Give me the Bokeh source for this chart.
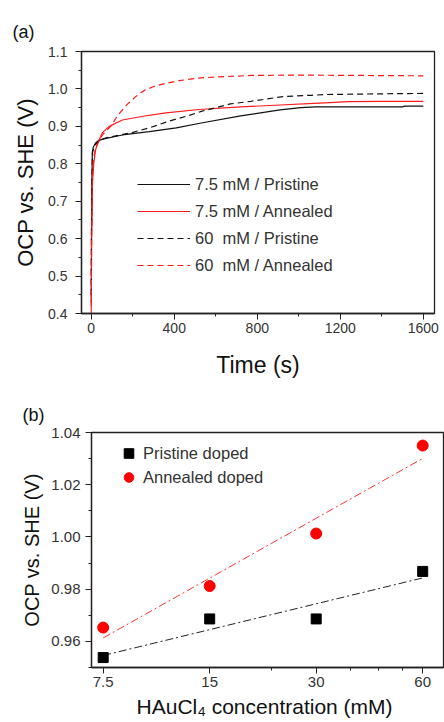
from bokeh.plotting import figure
from bokeh.layouts import column
from bokeh.models import (Range1d, SingleIntervalTicker, FixedTicker, NumeralTickFormatter,
                          Legend, LegendItem, CustomJSTickFormatter)
from bokeh.embed import file_html
from bokeh.resources import INLINE
import numpy as np

FONT = "Liberation Sans"
AXC = "#222222"
TXC = "#333333"

# ---------------- Panel (a): OCP transients ----------------
t_75_pristine = [0, 1, 3, 5, 10, 20, 35, 55, 150, 280, 410, 530, 720, 910, 1010, 1080, 1300, 1500, 1510, 1600]
v_75_pristine = [0.43, 0.60, 0.74, 0.83, 0.845, 0.855, 0.862, 0.866, 0.877, 0.886, 0.896, 0.909, 0.928,
                 0.944, 0.950, 0.952, 0.952, 0.952, 0.954, 0.954]

t_75_annealed = [0, 2, 6, 12, 20, 30, 45, 55, 87, 150, 250, 360, 520, 720, 910, 1100, 1240, 1390, 1600]
v_75_annealed = [0.40, 0.60, 0.75, 0.80, 0.835, 0.855, 0.872, 0.884, 0.900, 0.917, 0.927, 0.936, 0.945,
                 0.952, 0.957, 0.962, 0.966, 0.967, 0.967]

t_60_pristine = [0, 1, 3, 6, 15, 30, 50, 70, 200, 280, 375, 470, 530, 670, 770, 930, 1060, 1130, 1400, 1600]
v_60_pristine = [0.45, 0.62, 0.76, 0.83, 0.848, 0.858, 0.865, 0.869, 0.884, 0.896, 0.914, 0.929, 0.940,
                 0.960, 0.967, 0.980, 0.983, 0.985, 0.987, 0.988]

t_60_annealed = [0, 2, 5, 10, 20, 35, 55, 95, 130, 172, 215, 255, 304, 360, 424, 512, 610, 770, 1000, 1300, 1600]
v_60_annealed = [0.42, 0.62, 0.75, 0.81, 0.84, 0.858, 0.878, 0.901, 0.931, 0.958, 0.980, 0.996, 1.007,
                 1.015, 1.022, 1.029, 1.032, 1.036, 1.037, 1.036, 1.035]

labels_a = ["7.5 mM / Pristine", "7.5 mM / Annealed", "60  mM / Pristine", "60  mM / Annealed"]

# ---------------- Panel (b): OCP vs concentration ----------------
conc = [7.5, 15, 30, 60]
conc_labels = ["7.5", "15", "30", "60"]
ocp_pristine = [0.9538, 0.9686, 0.9686, 0.9868]
ocp_annealed = [0.9653, 0.9812, 1.0013, 1.0350]
labels_b = ["Pristine doped", "Annealed doped"]


def style_axes(p, tick_size, ylabel_size, xlabel_size):
    for ax in (p.xaxis[0], p.yaxis[0]):
        ax.axis_line_color = AXC
        ax.axis_line_width = 1.3
        ax.major_tick_line_color = AXC
        ax.minor_tick_line_color = AXC
        ax.major_tick_in = 0
        ax.major_tick_out = 6
        ax.minor_tick_in = 0
        ax.minor_tick_out = 3
        ax.major_label_text_font = FONT
        ax.major_label_text_font_size = tick_size
        ax.major_label_text_color = TXC
        ax.axis_label_text_font = FONT
        ax.axis_label_text_font_style = "normal"
        ax.axis_label_text_color = "#111111"
    p.yaxis.axis_label_text_font_size = ylabel_size
    p.xaxis.axis_label_text_font_size = xlabel_size
    p.grid.visible = False
    p.outline_line_color = AXC
    p.outline_line_width = 1.3
    p.background_fill_color = "white"
    p.border_fill_color = "white"
    p.title.text_font = FONT
    p.title.text_font_size = "18px"
    p.title.text_font_style = "normal"
    p.title.text_color = "#111111"
    p.title.align = "left"


# ---- figure (a)
pa = figure(width=444, height=385, output_backend="svg", toolbar_location=None, title="(a)",
            x_range=Range1d(-47, 1654), y_range=Range1d(0.4, 1.1), frame_align=False,
            min_border_left=81, min_border_right=10, min_border_top=51, min_border_bottom=72)
style_axes(pa, "14px", "22px", "23px")
pa.title.offset = -69
pa.title.standoff = 20
pa.xaxis.ticker = SingleIntervalTicker(interval=400, num_minor_ticks=2)
pa.yaxis.ticker = SingleIntervalTicker(interval=0.1, num_minor_ticks=2)
pa.yaxis.formatter = NumeralTickFormatter(format="0.0")
pa.xaxis.axis_label = "Time (s)"
pa.yaxis.axis_label = "OCP vs. SHE (V)"
pa.xaxis.major_label_standoff = 3
pa.xaxis.axis_label_standoff = 16
pa.yaxis.major_label_standoff = 8
pa.yaxis.axis_label_standoff = 7

r1 = pa.line(t_75_pristine, v_75_pristine, line_color="#111111", line_width=1.2)
r2 = pa.line(t_75_annealed, v_75_annealed, line_color="#ff1a1a", line_width=1.2)
r3 = pa.line(t_60_pristine, v_60_pristine, line_color="#111111", line_width=1.2, line_dash="6 4")
r4 = pa.line(t_60_annealed, v_60_annealed, line_color="#ff1a1a", line_width=1.2, line_dash="6 4")

leg_a = Legend(items=[LegendItem(label=labels_a[i], renderers=[r]) for i, r in enumerate([r1, r2, r3, r4])],
               location=(56, 38), border_line_color=None, background_fill_alpha=0,
               padding=0, margin=0, glyph_width=53, glyph_height=20, label_height=20,
               spacing=7, label_standoff=5, label_text_font=FONT, label_text_font_size="16.5px",
               label_text_color=TXC)
pa.add_layout(leg_a)

# ---- figure (b)
pb = figure(width=444, height=337, output_backend="svg", toolbar_location=None, title="(b)",
            x_axis_type="log", x_range=Range1d(6.95, 68.7), y_range=Range1d(0.95, 1.04),
            frame_align=False,
            min_border_left=91, min_border_right=1, min_border_top=47, min_border_bottom=55)
style_axes(pb, "15px", "20px", "21px")
pb.title.offset = -69
pb.title.standoff = 16
pb.xaxis.ticker = FixedTicker(ticks=conc, minor_ticks=[22.5, 37.5, 45, 52.5])
pb.xaxis.formatter = CustomJSTickFormatter(code="return String(tick);")
pb.xaxis.major_label_overrides = {c: l for c, l in zip(conc, conc_labels)}
pb.yaxis.ticker = SingleIntervalTicker(interval=0.02, num_minor_ticks=2)
pb.yaxis.formatter = NumeralTickFormatter(format="0.00")
pb.xaxis.axis_label = "HAuCl\u2084  concentration (mM)"
pb.yaxis.axis_label = "OCP vs. SHE (V)"
pb.xaxis.major_label_standoff = 3
pb.xaxis.axis_label_standoff = 5
pb.yaxis.major_label_standoff = 5
pb.yaxis.axis_label_standoff = 5

# linear fits in log2(concentration)
lx = np.log2(conc)
fit_p = np.polyfit(lx, ocp_pristine, 1)
fit_a = np.polyfit(lx, ocp_annealed, 1)
pb.line(conc, np.polyval(fit_p, lx), line_color="#222222", line_width=1, line_dash="8 3 2 3")
pb.line(conc, np.polyval(fit_a, lx), line_color="#ff3333", line_width=1, line_dash="8 3 2 3")

s1 = pb.scatter(conc, ocp_pristine, marker="square", size=10, fill_color="black", line_color="black")
s2 = pb.scatter(conc, ocp_annealed, marker="circle", size=11, fill_color="#ff0000", line_color="#ff0000")

leg_b = Legend(items=[LegendItem(label=labels_b[0], renderers=[s1]),
                      LegendItem(label=labels_b[1], renderers=[s2])],
               location=(25, 178), border_line_color=None, background_fill_alpha=0,
               padding=0, margin=0, glyph_width=25, glyph_height=24, label_height=24,
               spacing=0, label_standoff=2, label_text_font=FONT, label_text_font_size="16.5px",
               label_text_color=TXC)
pb.add_layout(leg_b)

layout = column(pa, pb, spacing=0)
open("out.html", "w").write(file_html(layout, INLINE))
